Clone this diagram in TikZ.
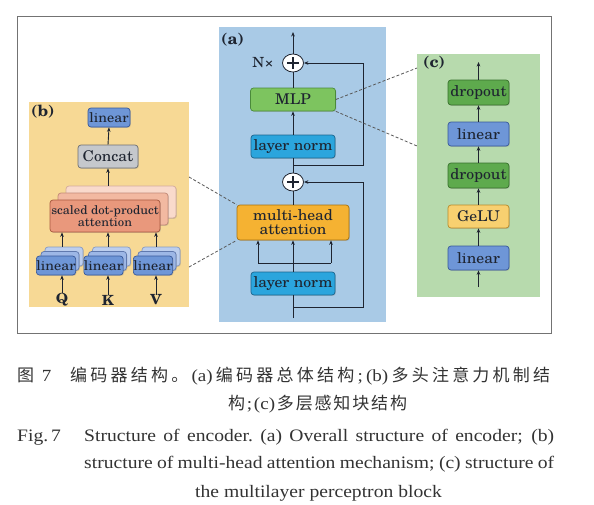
\documentclass[tikz,border=0pt]{standalone}
\usepackage{fontspec}
\usetikzlibrary{arrows.meta,shapes.geometric,shadows}
\newfontfamily\dfont[FakeStretch=1.06]{TeX Gyre Schola}
\newfontfamily\capfont[FakeStretch=1.12]{Liberation Serif}
\newfontfamily\cjk{Noto Sans CJK SC}
\newcommand\gl{\hskip 0pt plus 1fil\relax}
\definecolor{pA}{HTML}{A9CAE6}
\definecolor{pB}{HTML}{F7D995}
\definecolor{pC}{HTML}{B7DAAD}
\definecolor{lnC}{HTML}{2BA5DD}
\definecolor{lnD}{HTML}{1A6690}
\definecolor{mlpC}{HTML}{7DC45F}
\definecolor{mlpD}{HTML}{4A8A3A}
\definecolor{mhaC}{HTML}{F5B232}
\definecolor{mhaD}{HTML}{A8720E}
\definecolor{linC}{HTML}{6E96D7}
\definecolor{linD}{HTML}{38589A}
\definecolor{linC2}{HTML}{9DB7E6}
\definecolor{linC3}{HTML}{BCCEEE}
\definecolor{catC}{HTML}{C5C8CC}
\definecolor{catD}{HTML}{6E7074}
\definecolor{sdC}{HTML}{E9987C}
\definecolor{sdD}{HTML}{A8583E}
\definecolor{sdC2}{HTML}{F2B9A1}
\definecolor{sdC3}{HTML}{F9DACC}
\definecolor{drC}{HTML}{5EAA4D}
\definecolor{drD}{HTML}{37702B}
\definecolor{geC}{HTML}{F8D070}
\definecolor{geD}{HTML}{B88A2A}
\definecolor{txt}{HTML}{1E2430}
\begin{document}
\begin{tikzpicture}[x=1pt,y=-1pt,
  arr/.style={-{Stealth[length=4.5pt,width=3.6pt]}, line width=0.9pt, draw=txt},
  ln/.style={line width=0.9pt, draw=txt},
  dsh/.style={dashed, dash pattern=on 3pt off 2pt, line width=0.8pt, draw=black!65},
  panel/.style={draw=none, anchor=north west, inner sep=0pt},
  bx/.style={draw, rounded corners=3pt, line width=0.7pt, inner sep=0pt, align=center, text=txt,
     drop shadow={shadow xshift=0.9pt,shadow yshift=-0.9pt,opacity=0.3}},
  bigf/.style={font=\dfont\fontsize{14.8}{14}\selectfont},
  midf/.style={font=\dfont\fontsize{13.5}{13}\selectfont},
  smf/.style={font=\dfont\fontsize{12}{11.5}\selectfont},
  lnorm/.style={bx, bigf, fill=lnC, draw=lnD, minimum width=84pt, minimum height=23pt},
  mlp/.style={bx, bigf, fill=mlpC, draw=mlpD, minimum width=85pt, minimum height=23pt},
  mha/.style={bx, bigf, fill=mhaC, draw=mhaD, minimum width=112pt, minimum height=35pt},
  linb/.style={bx, fill=linC, draw=linD, minimum width=61pt, minimum height=24pt},
  dropb/.style={bx, bigf, fill=drC, draw=drD, minimum width=61pt, minimum height=25pt},
  gelub/.style={bx, bigf, fill=geC, draw=geD, minimum width=61pt, minimum height=23pt},
  catb/.style={bx, bigf, fill=catC, draw=catD, minimum width=60pt, minimum height=23pt},
  sdb/.style={bx, smf, draw=sdD, minimum width=110pt, minimum height=32pt},
  lins/.style={bx, midf, draw=linD, minimum width=38pt, minimum height=19pt},
  plusc/.style={ellipse, draw=txt, fill=white, line width=0.8pt, minimum width=21pt, minimum height=18pt, inner sep=0pt,
     path picture={\draw[line width=1.1pt, txt]
       ([xshift=-6pt]path picture bounding box.center) -- ([xshift=6pt]path picture bounding box.center)
       ([yshift=-6pt]path picture bounding box.center) -- ([yshift=6pt]path picture bounding box.center);}},
  plab/.style={font=\dfont\bfseries\fontsize{15.5}{15}\selectfont, text=txt, anchor=west, inner sep=0pt},
  capf/.style={font=\capfont\fontsize{17.5}{17}\selectfont, inner sep=0pt, text=black!80},
  cjkf/.style={font=\cjk\fontsize{17}{17}\selectfont, inner sep=0pt, text=black!80}
]
\useasboundingbox (0,0) rectangle (594,504);
\fill[white] (0,0) rectangle (594,504);
% outer frame
\draw[black!55, line width=0.9pt] (17,16) rectangle (551,333);
% panels
\node[panel, fill=pA, minimum width=167pt, minimum height=295pt] (pa) at (219,27) {};
\node[panel, fill=pB, minimum width=160pt, minimum height=205pt] (pb) at (29,102) {};
\node[panel, fill=pC, minimum width=123pt, minimum height=243pt] (pc) at (417,54) {};

% ================= (a) =================
\node[plab] (la) at (221,40) {(a)};
\node[font=\dfont\fontsize{14}{14}\selectfont, text=txt, inner sep=0pt] (nx) at (263,63) {N×};
\node[plusc] (pT) at (293,63) {};
\node[mlp] (mlpn) at (293,99.5) {MLP};
\node[lnorm] (ln1) at (293,146.5) {layer norm};
\node[plusc] (pB2) at (293,182) {};
\node[mha] (mhan) at (293,222.5) {multi-head\\attention};
\node[lnorm] (ln0) at (293,283.5) {layer norm};
\coordinate (in0) at (293,318);
\coordinate (j0) at (293,307);
\coordinate (r0) at (363,307);
\coordinate (jb) at (293,263);
\coordinate (bl) at (258,263);
\coordinate (br) at (331,263);
\coordinate (j1) at (293,165);
\coordinate (r1) at (363,165);
\coordinate (outa) at (293,32);

\draw[ln] (in0) -- (ln0.south);
\draw[arr] (ln0.north) -- (mhan.south);
\draw[ln] (bl) -- (br);
\draw[arr] (bl) -- (bl |- mhan.south);
\draw[arr] (br) -- (br |- mhan.south);
\draw[arr] (j0) -- (r0) -- (r0 |- pB2) -- (pB2.east);
\draw[ln] (mhan.north) -- (pB2.south);
\draw[ln] (pB2.north) -- (ln1.south);
\draw[arr] (j1) -- (r1) -- (r1 |- pT) -- (pT.east);
\draw[arr] (ln1.north) -- (mlpn.south);
\draw[ln] (mlpn.north) -- (pT.south);
\draw[arr] (pT.north) -- (outa);

% ================= (b) =================
\node[plab] (lb) at (31,112) {(b)};
\node[bx, midf, fill=linC, draw=linD, minimum width=42pt, minimum height=19pt] (linT) at (109,117.5) {linear};
\node[catb] (cat) at (108,156.5) {Concat};
\node[sdb, fill=sdC3, draw=sdD!50] (sd3) at (121,202) {};
\node[sdb, fill=sdC2, draw=sdD!70] (sd2) at (113,209) {};
\node[sdb, fill=sdC] (sd1) at (105,216) {scaled dot-product\\attention};

\foreach \n/\x in {q/56,k/103.5,v/153}{
  \node[lins, fill=linC3, draw=linD!60] (\n3) at (\x+8,256.5) {};
  \node[lins, fill=linC2, draw=linD!80] (\n2) at (\x+4,261) {};
  \node[lins, fill=linC] (\n1) at (\x,265.5) {linear};
}
\node[font=\dfont\bfseries\fontsize{14}{13}\selectfont, text=txt, inner sep=0pt] (Q) at (62,300) {Q};
\node[font=\dfont\bfseries\fontsize{14}{13}\selectfont, text=txt, inner sep=0pt] (K) at (108,300) {K};
\node[font=\dfont\bfseries\fontsize{14}{13}\selectfont, text=txt, inner sep=0pt] (V) at (156,300) {V};
\draw[arr] (Q.north) -- (Q.north |- q1.south);
\draw[arr] (K.north) -- (K.north |- k1.south);
\draw[arr] (V.north) -- (V.north |- v1.south);
\draw[arr] (Q.north |- q3.north) -- (Q.north |- sd1.south);
\draw[arr] (K.north |- k3.north) -- (K.north |- sd1.south);
\draw[arr] (V.north |- v3.north) -- (V.north |- sd1.south);
\draw[arr] (cat.south |- sd3.north) -- (cat.south);
\draw[arr] (cat.north) -- (linT.south);

% dashed links b -> a
\coordinate (bA) at (189,177);
\coordinate (bB) at (189,267);
\draw[dsh] (bA) -- (mhan.north west);
\draw[dsh] (bB) -- (mhan.south west);

% ================= (c) =================
\node[plab] (lc) at (423,63) {(c)};
\node[linb, bigf] (cl1) at (478.5,258) {linear};
\node[gelub] (cge) at (478.5,216.5) {GeLU};
\node[dropb] (cd1) at (478.5,175.5) {dropout};
\node[linb, bigf] (cl2) at (478.5,134) {linear};
\node[dropb] (cd2) at (478.5,92.5) {dropout};
\coordinate (inc) at (478.5,287);
\coordinate (outc) at (478.5,62);
\draw[arr] (inc) -- (cl1.south);
\draw[arr] (cl1.north) -- (cge.south);
\draw[arr] (cge.north) -- (cd1.south);
\draw[arr] (cd1.north) -- (cl2.south);
\draw[arr] (cl2.north) -- (cd2.south);
\draw[arr] (cd2.north) -- (outc);

% dashed links a -> c
\coordinate (cA) at (417,68);
\coordinate (cB) at (417,146);
\draw[dsh] (mlpn.east) -- (cA);
\draw[dsh] (mlpn.south east) -- (cB);

% ================= caption =================
\node[cjkf, anchor=base west] (c1a) at (17,381) {图\hskip 0.45em{\capfont 7}};
\node[cjkf, anchor=base west] (c1b) at (70,381) {\makebox[480pt][s]{编\gl 码\gl 器\gl 结\gl 构\gl 。\gl {\capfont(a)}\gl 编\gl 码\gl 器\gl 总\gl 体\gl 结\gl 构\gl {\capfont;}\gl {\capfont(b)}\gl 多\gl 头\gl 注\gl 意\gl 力\gl 机\gl 制\gl 结}};
\node[cjkf, anchor=base] (c2) at (317.5,409) {\makebox[179pt][s]{构\gl {\capfont;}\gl {\capfont(c)}\gl 多\gl 层\gl 感\gl 知\gl 块\gl 结\gl 构}};
\node[capf, anchor=base west] (e1a) at (17,441) {Fig.\,7};
\node[capf, anchor=base west] (e1b) at (84,441) {\makebox[470pt][s]{Structure of encoder.\ (a) Overall structure of encoder; (b)}};
\node[capf, anchor=base west] (e2) at (84,468) {\makebox[470pt][s]{structure of multi-head attention mechanism; (c) structure of}};
\node[capf, anchor=base] (e3) at (318.5,497) {the multilayer perceptron block};
\end{tikzpicture}
\end{document}
